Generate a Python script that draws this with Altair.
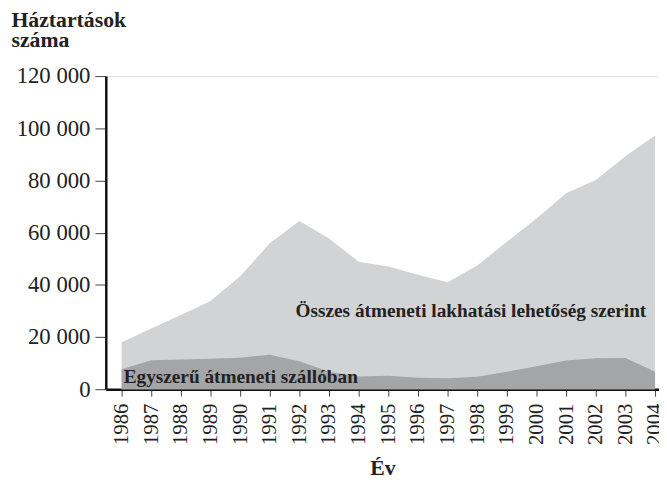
import altair as alt
import pandas as pd

years = list(range(1986, 2005))
total = [18000, 23300, 28400, 33800, 43300, 55900, 64500, 57800, 48800, 47000,
         43900, 41000, 47400, 56500, 65400, 75100, 80200, 89300, 97200]
hostel = [7700, 11100, 11400, 11700, 12100, 13200, 10700, 6700, 4900, 5200,
          4400, 4200, 4800, 6700, 8800, 11000, 11900, 12000, 6700]

label_total = "Összes átmeneti lakhatási lehetőség szerint"
label_hostel = "Egyszerű átmeneti szállóban"
y_ticks = [0, 20000, 40000, 60000, 80000, 100000, 120000]

df = pd.DataFrame({"ev": years, "osszes": total, "szallo": hostel})
labels = pd.DataFrame({
    "x": [1991.87, 1986.07],
    "y": [30000, 4500],
    "text": [label_total, label_hostel],
})

FONT = "Liberation Serif"

xscale = alt.Scale(domain=[1985.467, 2004.133], nice=False, zero=False)
yscale = alt.Scale(domain=[0, 120000], nice=False)

xaxis = alt.Axis(
    title="Év", values=years, format="d", labelAngle=270,
    labelOverlap=False, labelFlush=False, labelSeparation=0,
    labelFont=FONT, labelFontSize=21, labelColor="#222222", labelPadding=7,
    tickSize=7, tickColor="#444444", tickWidth=1,
    domainColor="#111111", domainWidth=2.5,
    titleFont=FONT, titleFontSize=22, titleFontWeight="bold", titleColor="#222222",
    titlePadding=13, grid=False,
)
yaxis = alt.Axis(
    title=["Háztartások", "száma"], values=y_ticks,
    labelExpr="datum.value == 0 ? '0' : format(datum.value / 1000, 'd') + ' 000'",
    labelFont=FONT, labelFontSize=23, labelColor="#222222", labelPadding=5,
    labelOverlap=False,
    tickSize=11, tickColor="#444444", tickWidth=1,
    domainColor="#111111", domainWidth=2.5,
    titleFont=FONT, titleFontSize=22, titleFontWeight="bold", titleColor="#222222",
    titleAngle=0, titleAlign="left", titleBaseline="top", titleX=-96, titleY=-67,
    titleLineHeight=20, grid=False,
)

base = alt.Chart(df)
area_total = base.mark_area(color="#d2d3d5", opacity=1).encode(
    x=alt.X("ev:Q", scale=xscale, axis=xaxis),
    y=alt.Y("osszes:Q", scale=yscale, axis=yaxis),
)
area_hostel = base.mark_area(color="#a3a5a7", opacity=1).encode(
    x=alt.X("ev:Q", scale=xscale, axis=xaxis),
    y=alt.Y("szallo:Q", scale=yscale, axis=yaxis),
)
text = alt.Chart(labels).mark_text(
    align="left", baseline="middle", font=FONT, fontSize=19.5, fontWeight="bold",
    color="#222222",
).encode(
    x=alt.X("x:Q", scale=xscale, axis=xaxis),
    y=alt.Y("y:Q", scale=yscale, axis=yaxis),
    text="text:N",
)

chart = (area_total + area_hostel + text).properties(
    width=560, height=317,
    autosize=alt.AutoSizeParams(type="none"),
    padding={"left": 99, "top": 66, "right": 0, "bottom": 90},
).configure_view(strokeWidth=0).configure_axis(labelOverlap=False).configure(background="white")

chart.save("out.html", embed_options={"renderer": "svg", "actions": False})
